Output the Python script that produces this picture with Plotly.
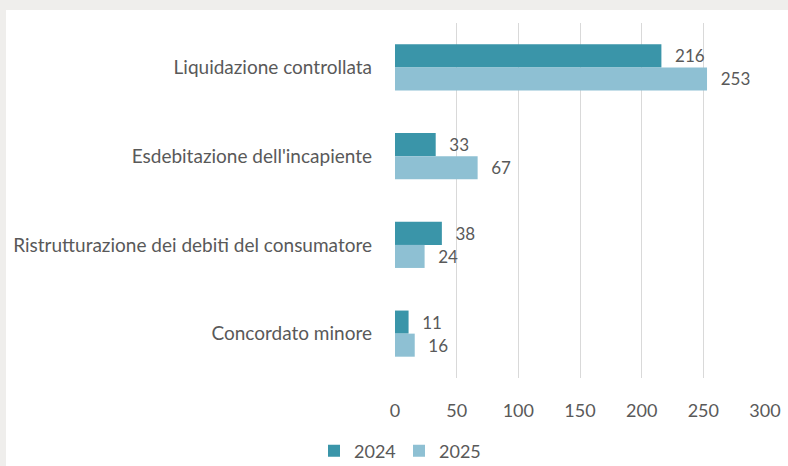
import plotly.graph_objects as go

categories = ["Liquidazione controllata", "Esdebitazione dell'incapiente",
              "Ristrutturazione dei debiti del consumatore", "Concordato minore"]
values_2024 = [216, 33, 38, 11]
values_2025 = [253, 67, 24, 16]
series_names = ["2024", "2025"]
x_ticks = [0, 50, 100, 150, 200, 250, 300]

colors = ["#3a95a9", "#8ec0d3"]
text_color = "#595959"
font_family = "Lato, 'Open Sans', sans-serif"

fig = go.Figure()
for name, vals, col in zip(series_names, [values_2024, values_2025], colors):
    fig.add_trace(go.Bar(
        y=categories, x=vals, name=name, orientation="h",
        marker=dict(color=col, line=dict(width=0)),
        text=[str(v) for v in vals],
        texttemplate="\u2002\u2009%{text}",
        textposition="outside",
        textfont=dict(family=font_family, size=17, color=text_color),
        cliponaxis=False,
    ))

W, H = 788, 466
L, R, T, B = 395, 23, 23, 88
pw, ph = W - L - R, H - T - B

fig.update_layout(
    width=W, height=H,
    margin=dict(l=L, r=R, t=T, b=B, autoexpand=False),
    paper_bgcolor="#efeeec",
    plot_bgcolor="rgba(0,0,0,0)",
    barmode="group", bargap=0.48, bargroupgap=0,
    font=dict(family=font_family, size=17, color=text_color),
    showlegend=True,
    legend=dict(orientation="h", x=(399 - L) / pw, xanchor="center",
                y=(H - B - 451) / ph, yanchor="middle",
                font=dict(size=18, color=text_color), bgcolor="rgba(0,0,0,0)",
                itemwidth=30, entrywidth=40),
    shapes=[dict(type="rect", xref="paper", yref="paper", layer="below",
                 x0=(6 - L) / pw, x1=(W + 5 - L) / pw,
                 y0=-(B + 5) / ph, y1=(H - B - 10) / ph,
                 fillcolor="white", line=dict(width=0))],
    xaxis=dict(range=[0, 300], tickvals=x_ticks, showgrid=True,
               gridcolor="#d9d9d9", gridwidth=1, zeroline=False,
               showline=False, ticks="", ticklabelstandoff=20,
               tickfont=dict(size=18, color=text_color), fixedrange=True),
    yaxis=dict(autorange="reversed", showgrid=False, zeroline=False,
               showline=False, ticks="", ticklabelstandoff=22,
               tickfont=dict(size=19, color=text_color), fixedrange=True),
)

fig.write_html(
    "out.html",
    config={"displayModeBar": False},
    post_script="document.body.style.margin='0';document.body.style.overflow='hidden';",
)
